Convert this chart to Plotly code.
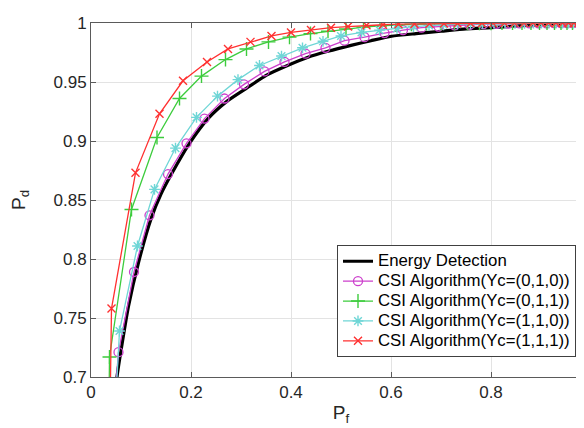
import plotly.graph_objects as go

# Energy detection (no markers)
pf_ed = [0.049, 0.052, 0.061, 0.075, 0.095, 0.120, 0.140, 0.161, 0.197, 0.234, 0.273, 0.312, 0.352, 0.393, 0.434, 0.474, 0.520, 0.560, 0.601, 0.650, 0.700, 0.750, 0.800, 0.850, 0.900, 0.950, 1.0]
pd_ed = [0.68, 0.70, 0.725, 0.760, 0.797, 0.834, 0.855, 0.872, 0.898, 0.919, 0.934, 0.945, 0.956, 0.964, 0.971, 0.976, 0.981, 0.985, 0.9888, 0.991, 0.993, 0.995, 0.996, 0.9975, 0.9985, 0.9994, 1.0]

# CSI Algorithm (Yc=(0,1,0))
pf_010 = [0.045, 0.055, 0.086, 0.117, 0.154, 0.191, 0.227, 0.267, 0.306, 0.347, 0.387, 0.429, 0.469, 0.507, 0.547, 0.587, 0.624, 0.661, 0.695, 0.727, 0.757, 0.785, 0.811, 0.835, 0.857, 0.877, 0.895, 0.911, 0.926, 0.940, 0.952, 0.963, 0.973, 0.981, 0.988, 0.994, 1.0]
pd_010 = [0.67, 0.721, 0.789, 0.837, 0.872, 0.898, 0.919, 0.936, 0.948, 0.959, 0.967, 0.974, 0.979, 0.985, 0.988, 0.9915, 0.994, 0.996, 0.997, 0.998, 0.9985, 0.999, 0.9993, 0.9995, 0.9996, 0.9997, 0.9998, 0.9998, 0.9999, 0.9999, 0.9999, 1.0, 1.0, 1.0, 1.0, 1.0, 1.0]

# CSI Algorithm (Yc=(0,1,1))
pf_011 = [0.035, 0.037, 0.081, 0.132, 0.177, 0.221, 0.269, 0.311, 0.355, 0.397, 0.439, 0.474, 0.510, 0.545, 0.578, 0.610, 0.641, 0.671, 0.700, 0.727, 0.753, 0.777, 0.800, 0.822, 0.843, 0.862, 0.880, 0.897, 0.912, 0.927, 0.940, 0.952, 0.963, 0.972, 0.981, 0.988, 0.994, 1.0]
pd_011 = [0.64, 0.717, 0.842, 0.903, 0.936, 0.955, 0.969, 0.978, 0.984, 0.988, 0.991, 0.993, 0.995, 0.9965, 0.9975, 0.9983, 0.999, 0.9993, 0.9995, 0.9996, 0.9997, 0.9998, 0.9998, 0.9999, 0.9999, 0.9999, 1.0, 1.0, 1.0, 1.0, 1.0, 1.0, 1.0, 1.0, 1.0, 1.0, 1.0, 1.0]

# CSI Algorithm (Yc=(1,1,0))
pf_110 = [0.047, 0.057, 0.093, 0.127, 0.169, 0.211, 0.253, 0.294, 0.337, 0.381, 0.423, 0.464, 0.500, 0.541, 0.577, 0.612, 0.645, 0.676, 0.705, 0.733, 0.759, 0.783, 0.806, 0.828, 0.848, 0.867, 0.885, 0.901, 0.916, 0.930, 0.943, 0.955, 0.965, 0.975, 0.983, 0.990, 0.995, 1.0]
pd_110 = [0.66, 0.739, 0.811, 0.859, 0.894, 0.920, 0.938, 0.952, 0.964, 0.972, 0.979, 0.9845, 0.989, 0.992, 0.994, 0.9955, 0.997, 0.998, 0.9985, 0.999, 0.9993, 0.9995, 0.9996, 0.9997, 0.9998, 0.9998, 0.9999, 0.9999, 0.9999, 1.0, 1.0, 1.0, 1.0, 1.0, 1.0, 1.0, 1.0, 1.0]

# CSI Algorithm (Yc=(1,1,1))
pf_111 = [0.037, 0.041, 0.089, 0.137, 0.184, 0.232, 0.274, 0.319, 0.361, 0.400, 0.440, 0.480, 0.514, 0.551, 0.584, 0.615, 0.647, 0.677, 0.706, 0.733, 0.759, 0.782, 0.804, 0.827, 0.847, 0.866, 0.884, 0.900, 0.915, 0.930, 0.943, 0.955, 0.966, 0.975, 0.983, 0.990, 0.995, 1.0]
pd_111 = [0.64, 0.758, 0.873, 0.923, 0.951, 0.967, 0.978, 0.984, 0.989, 0.992, 0.994, 0.996, 0.997, 0.998, 0.9985, 0.999, 0.9992, 0.9994, 0.9995, 0.9996, 0.9997, 0.9998, 0.9998, 0.9999, 0.9999, 0.9999, 1.0, 1.0, 1.0, 1.0, 1.0, 1.0, 1.0, 1.0, 1.0, 1.0, 1.0, 1.0]

series_names = ["Energy Detection", "CSI Algorithm(Yc=(0,1,0))", "CSI Algorithm(Yc=(0,1,1))",
                "CSI Algorithm(Yc=(1,1,0))", "CSI Algorithm(Yc=(1,1,1))"]

x_ticks = [0, 0.2, 0.4, 0.6, 0.8, 1]
x_tick_text = ["0", "0.2", "0.4", "0.6", "0.8", "1"]
y_ticks = [0.7, 0.75, 0.8, 0.85, 0.9, 0.95, 1]
y_tick_text = ["0.7", "0.75", "0.8", "0.85", "0.9", "0.95", "1"]

FONT = "Liberation Sans, Arial, sans-serif"


def legend_label(s):
    return '<span style="font-size:16.8px">' + s + '</span>'


fig = go.Figure()
fig.add_trace(go.Scatter(x=pf_ed, y=pd_ed, mode="lines", name=legend_label(series_names[0]),
                         line=dict(color="black", width=3.2, shape="spline", smoothing=0.6)))
fig.add_trace(go.Scatter(x=pf_010, y=pd_010, mode="lines+markers", name=legend_label(series_names[1]),
                         line=dict(color="#cc3fcc", width=1.3),
                         marker=dict(symbol="circle-open", size=9, color="#cc3fcc", line=dict(width=1.3, color="#cc3fcc"))))
fig.add_trace(go.Scatter(x=pf_011, y=pd_011, mode="lines+markers", name=legend_label(series_names[2]),
                         line=dict(color="#3dcc3d", width=1.3),
                         marker=dict(symbol="cross-thin-open", size=10, color="#3dcc3d", line=dict(width=1.4, color="#3dcc3d"))))
fig.add_trace(go.Scatter(x=pf_110, y=pd_110, mode="lines+markers", name=legend_label(series_names[3]),
                         line=dict(color="#6fd6d6", width=1.3),
                         marker=dict(symbol="asterisk-open", size=9, color="#6fd6d6", line=dict(width=1.4, color="#6fd6d6"))))
fig.add_trace(go.Scatter(x=pf_111, y=pd_111, mode="lines+markers", name=legend_label(series_names[4]),
                         line=dict(color="#ff3030", width=1.3),
                         marker=dict(symbol="x-thin-open", size=8, color="#ff3030", line=dict(width=1.4, color="#ff3030"))))

axis_common = dict(showgrid=True, gridcolor="#e3e3e3", gridwidth=1,
                   showline=True, linecolor="#5a5a5a", linewidth=1, mirror="ticks",
                   ticks="inside", ticklen=5, tickcolor="#5a5a5a", zeroline=False,
                   tickfont=dict(family=FONT, size=17, color="#262626"), automargin=False,
                   ticklabeloverflow="allow")

fig.update_xaxes(range=[0, 1], tickvals=x_ticks, ticktext=x_tick_text,
                 title=dict(text="P<sub>f</sub>", font=dict(family=FONT, size=19, color="#262626"), standoff=4),
                 **axis_common)
fig.update_yaxes(range=[0.7, 1], tickvals=y_ticks, ticktext=y_tick_text,
                 title=dict(text="P<sub>d</sub>", font=dict(family=FONT, size=19, color="#262626"), standoff=24),
                 **axis_common)

fig.update_layout(
    width=584, height=428,
    margin=dict(l=83, r=1, t=15, b=59),
    paper_bgcolor="white", plot_bgcolor="white",
    showlegend=True,
    legend=dict(x=0.492, y=0.372, xanchor="left", yanchor="top",
                bgcolor="white", bordercolor="#404040", borderwidth=1,
                font=dict(family=FONT, size=13, color="black"),
                tracegroupgap=0, itemwidth=30),
)

fig.write_html("out.html")
